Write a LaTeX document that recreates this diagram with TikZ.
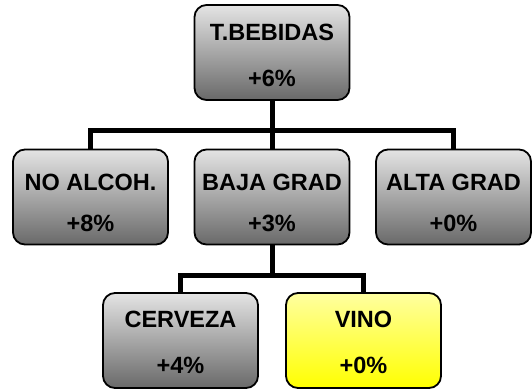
\documentclass[tikz,border=0pt]{standalone}
\usepackage{fontspec}
\setmainfont{Liberation Sans}
\begin{document}
\begin{tikzpicture}[x=1pt,y=-1pt,
  box/.style={draw=black, line width=1.8pt, rounded corners=12pt, minimum width=155pt, minimum height=95pt, inner sep=0pt},
  graybox/.style={box, top color={rgb,255:red,228;green,228;blue,228}, bottom color={rgb,255:red,105;green,105;blue,105}},
  yellowbox/.style={box, top color={rgb,255:red,255;green,255;blue,160}, bottom color={rgb,255:red,255;green,255;blue,0}},
  lbl/.style={font=\bfseries\fontsize{23.5}{28}\selectfont, inner sep=0pt, anchor=center},
  conn/.style={line width=5pt, line join=miter}]
\useasboundingbox (0,0) rectangle (532,390);
% junction points
\coordinate (j1) at (272,131);
\coordinate (j2) at (272,275);
% boxes
\node[graybox] (top) at (272,52.5) {};
\node[graybox] (no) at (90.5,197) {};
\node[graybox] (baja) at (272,197) {};
\node[graybox] (alta) at (453.5,197) {};
\node[graybox] (cerv) at (180.5,340.5) {};
\node[yellowbox] (vino) at (363.5,340.5) {};
% connectors
\draw[conn] (top.south) -- (j1);
\draw[conn] (no.north) |- (j1) -| (alta.north);
\draw[conn] (j1) -- (baja.north);
\draw[conn] (baja.south) -- (j2);
\draw[conn] (cerv.north) |- (j2) -| (vino.north);
% labels
\node[lbl] (topa) at ([yshift=-28pt]top.north) {T.BEBIDAS};
\node[lbl] (topb) at ([yshift=22pt]top.south) {+6\%};
\node[lbl] (noa) at ([yshift=-34pt]no.north) {NO ALCOH.};
\node[lbl] (nob) at ([yshift=22pt]no.south) {+8\%};
\node[lbl] (bajaa) at ([yshift=-34pt]baja.north) {BAJA GRAD};
\node[lbl] (bajab) at ([yshift=22pt]baja.south) {+3\%};
\node[lbl] (altaa) at ([yshift=-34pt]alta.north) {ALTA GRAD};
\node[lbl] (altab) at ([yshift=22pt]alta.south) {+0\%};
\node[lbl] (cerva) at ([yshift=-27pt]cerv.north) {CERVEZA};
\node[lbl] (cervb) at ([yshift=23pt]cerv.south) {+4\%};
\node[lbl] (vinoa) at ([yshift=-27pt]vino.north) {VINO};
\node[lbl] (vinob) at ([yshift=23pt]vino.south) {+0\%};
\end{tikzpicture}
\end{document}
